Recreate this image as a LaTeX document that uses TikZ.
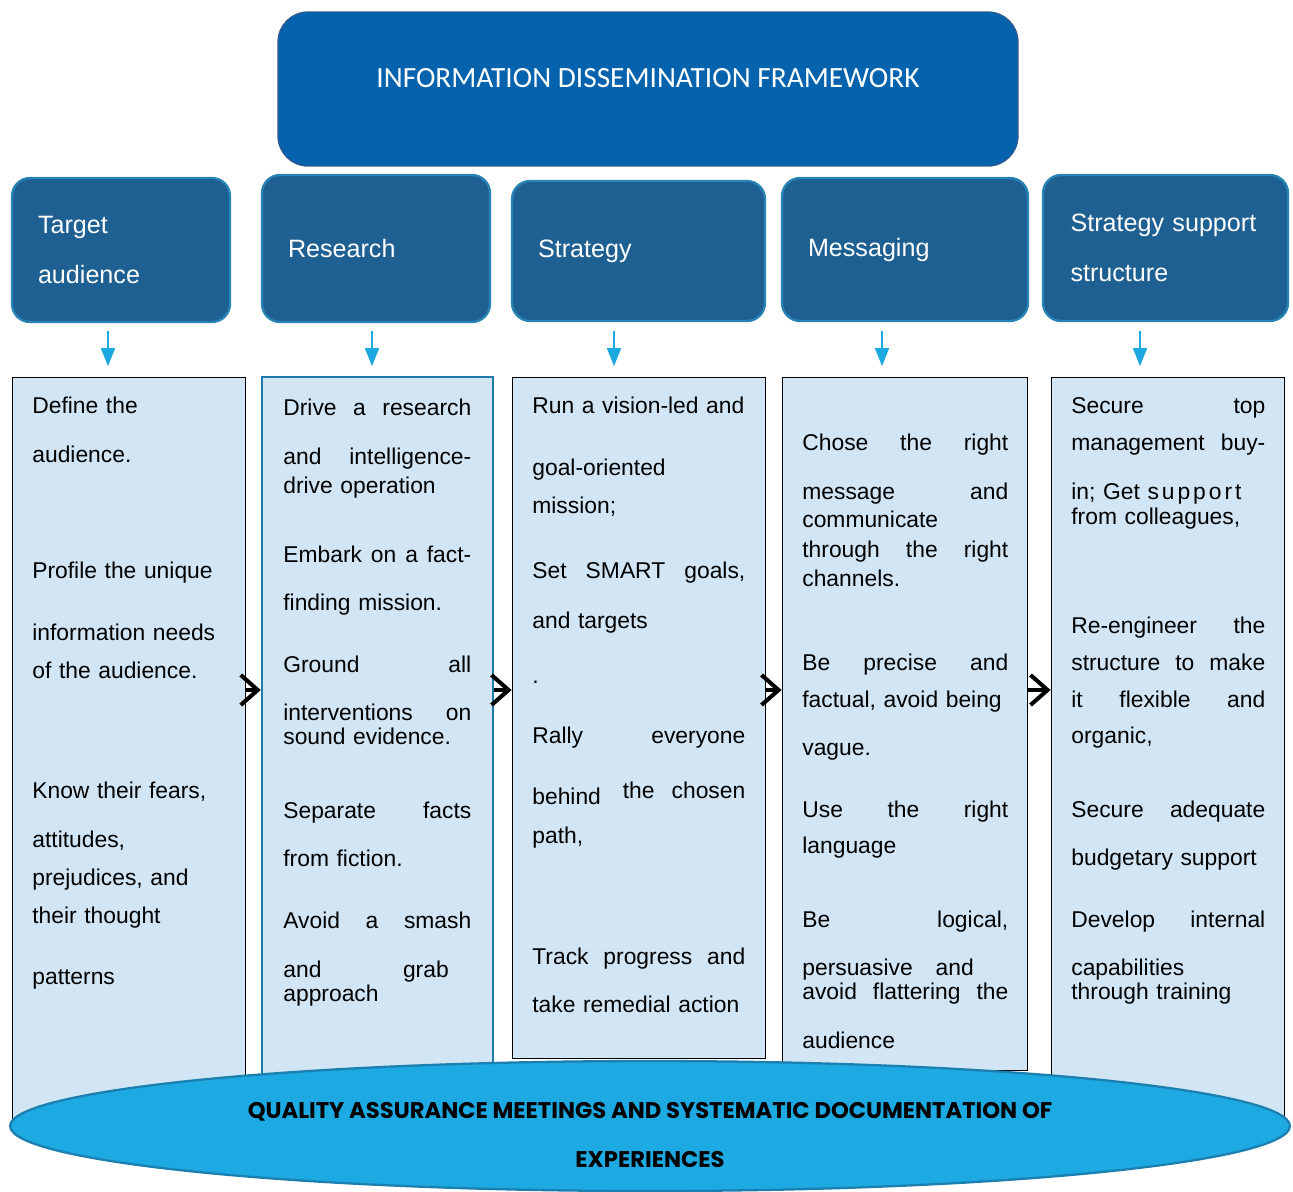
\documentclass[tikz,border=0pt]{standalone}
\usepackage{fontspec}
\setmainfont{Liberation Sans}
\newfontfamily\titlefont{Carlito}
\newfontfamily\qafont{Poppins}
\usetikzlibrary{shapes.geometric,arrows.meta}
\definecolor{titlefill}{HTML}{0563AD}
\definecolor{titleline}{HTML}{2C5A94}
\definecolor{headfill}{HTML}{1F6093}
\definecolor{headline}{HTML}{2784B4}
\definecolor{colfill}{HTML}{D1E5F4}
\definecolor{colline}{HTML}{1F7BAA}
\definecolor{arrowblue}{HTML}{1EA8E0}
\definecolor{qafill}{HTML}{1DA9E1}
\definecolor{qaline}{HTML}{1B7FAF}
\tikzset{
  headbox/.style={draw=headline, fill=headfill, line width=1.3pt, rounded corners=0.36cm,
    text=white, align=left, inner xsep=0.52cm, inner ysep=0pt,
    font=\fontsize{14.3}{28.35}\selectfont},
  colbox/.style={draw=black, fill=colfill, line width=0.5pt, inner sep=0pt},
  txtline/.style={anchor=base west, inner sep=0pt, align=left,
    font=\fontsize{13}{15.6}\selectfont},
  downarrow/.style={draw=arrowblue, line width=0.9pt, -{Triangle[length=0.36cm,width=0.28cm]}},
  nextarrow/.style={draw=black, line width=2.3pt, -{Straight Barb[length=0.34cm,width=0.6cm]}}
}
\begin{document}
\begin{tikzpicture}[x=0.02cm,y=-0.02cm]
  \useasboundingbox (0,0) rectangle (1293,1191);
  \node[draw=titleline, fill=titlefill, line width=0.8pt, rounded corners=0.6cm,
    minimum width=14.8cm, minimum height=3.08cm] (frame) at (648,89) {};
  \node[text=white, font=\titlefont\fontsize{16.7}{20}\selectfont] (ftitle)
    at ([shift={(0,-11)}]frame.center) {INFORMATION DISSEMINATION FRAMEWORK};

  \node[headbox, minimum width=4.36cm, minimum height=2.88cm, text width=3.32cm] (h1) at (121,250) {Target\\audience};
  \node[headbox, minimum width=4.56cm, minimum height=2.94cm, text width=3.52cm] (h2) at (376,248.5) {Research};
  \node[headbox, minimum width=5.06cm, minimum height=2.80cm, text width=4.02cm] (h3) at (638.5,251) {Strategy};
  \node[headbox, minimum width=4.92cm, minimum height=2.86cm, text width=3.88cm] (h4) at (905,249.5) {Messaging};
  \node[headbox, minimum width=4.90cm, minimum height=2.92cm, text width=3.80cm] (h5) at (1165.5,248) {Strategy support\\structure};

  \node[colbox, minimum width=4.66cm, minimum height=14.96cm] (c1) at (128.5,751) {};
  \node[colbox, draw=colline, line width=1.4pt, minimum width=4.62cm, minimum height=13.96cm] (c2) at (377.5,726) {};
  \node[colbox, minimum width=5.06cm, minimum height=13.62cm] (c3) at (638.5,717.5) {};
  \node[colbox, minimum width=4.90cm, minimum height=13.86cm] (c4) at (904.5,723.5) {};
  \node[colbox, minimum width=4.66cm, minimum height=14.96cm] (c5) at (1167.5,751) {};

  \foreach \y/\t [count=\i] in {413/{Define the}, 462/{audience.}, 578/{Profile the unique},
      640/{information needs}, 678/{of the audience.}, 798/{Know their fears,},
      847/{attitudes,}, 885/{prejudices, and}, 923/{their thought}, 984/{patterns}}
    \node[txtline, text width=4cm] (t1-\i) at (32,\y) {\t};
  \foreach \y/\t [count=\i] in {415/{Drive\hfill a\hfill research}, 464/{and\hfill intelligence-},
      493/{drive operation}, 562/{Embark\hfill on\hfill a\hfill fact-}, 610/{finding mission.},
      672/{Ground\hfill all}, 720/{interventions\hfill on}, 744/{sound evidence.},
      818/{Separate\hfill facts}, 866/{from fiction.}, 928/{Avoid\hfill a\hfill smash},
      977/{and\hspace{3.57em}grab}, 1001/{approach}}
    \node[txtline, text width=3.76cm] (t2-\i) at (283,\y) {\t};
  \foreach \y/\t [count=\i] in {413/{Run a vision-led and}, 475/{goal-oriented}, 513/{mission;},
      578/{Set\hfill SMART\hfill goals,}, 628/{and targets}, 683/{.},
      743/{Rally\hfill everyone},
      804/{behind\hfill\raisebox{3.4pt}{the\hspace{0.75em}chosen}}, 843/{path,},
      964/{Track\hfill progress\hfill and}, 1012/{take remedial action}}
    \node[txtline, text width=4.26cm] (t3-\i) at (532,\y) {\t};
  \foreach \y/\t [count=\i] in {450/{Chose\hfill the\hfill right}, 499/{message\hfill and},
      527/{communicate}, 557/{through\hfill the\hfill right}, 586/{channels.},
      670/{Be\hfill precise\hfill and}, 707/{factual, avoid being}, 755/{vague.},
      817/{Use\hfill the\hfill right}, 853/{language}, 927/{Be\hfill logical,},
      975/{persuasive\hspace{1em}and}, 999/{avoid\hfill flattering\hfill the}, 1048/{audience}}
    \node[txtline, text width=4.12cm] (t4-\i) at (802,\y) {\t};
  \foreach \y/\t [count=\i] in {413/{Secure\hfill top}, 450/{management\hfill buy-},
      499/{in; Get {\addfontfeature{LetterSpace=13}support}}, 524/{from colleagues,},
      633/{Re-engineer\hfill the}, 670/{structure\hfill to\hfill make},
      707/{it\hfill flexible\hfill and}, 743/{organic,}, 817/{Secure\hfill adequate},
      865/{budgetary support}, 927/{Develop\hfill internal}, 975/{capabilities},
      999/{through training}}
    \node[txtline, text width=3.88cm] (t5-\i) at (1071,\y) {\t};

  \draw[downarrow] ([shift={(-13,8)}]h1.south) -- ++(0,35);
  \draw[downarrow] ([shift={(-4,8)}]h2.south) -- ++(0,35);
  \draw[downarrow] ([shift={(-24.5,9)}]h3.south) -- ++(0,35);
  \draw[downarrow] ([shift={(-23,9)}]h4.south) -- ++(0,35);
  \draw[downarrow] ([shift={(-25.5,9)}]h5.south) -- ++(0,35);

  \coordinate (mid) at (0,690);
  \draw[nextarrow] (c1.east |- mid) -- (c2.west |- mid);
  \draw[nextarrow] (c2.east |- mid) -- (c3.west |- mid);
  \draw[nextarrow] (c3.east |- mid) -- (c4.west |- mid);
  \draw[nextarrow] (c4.east |- mid) -- (c5.west |- mid);

  \node[ellipse, draw=qaline, fill=qafill, line width=1.3pt, minimum width=25.6cm,
    minimum height=2.6cm, inner sep=0pt] (qa) at (650,1126) {};
  \node[align=center, font=\qafont\bfseries\fontsize{12.9}{28.35}\selectfont] (qatext)
    at ([shift={(0,9)}]qa.center) {QUALITY ASSURANCE MEETINGS AND SYSTEMATIC DOCUMENTATION OF\\EXPERIENCES};
\end{tikzpicture}
\end{document}
